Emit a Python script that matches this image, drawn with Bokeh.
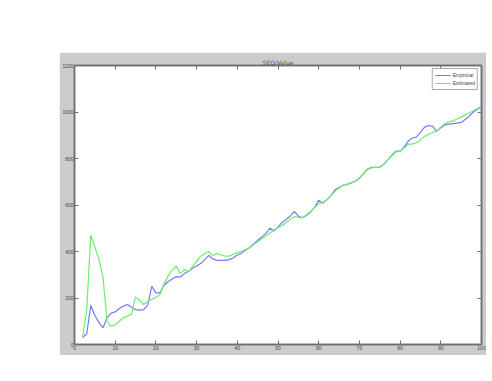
from bokeh.plotting import figure
from bokeh.models import LinearAxis, Range1d, FixedTicker, Legend, LegendItem
from bokeh.embed import file_html
from bokeh.resources import INLINE

x_vals = list(range(2, 101))
empirical = [30, 45, 168, 125, 95, 72, 115, 135, 140, 155, 165, 172, 160, 150, 148, 150, 170, 250, 222,
             222, 255, 270, 282, 292, 290, 305, 315, 328, 338, 348, 365, 383, 368, 362, 362, 362, 365, 372,
             385, 392, 405, 416, 432, 448, 462, 478, 500, 488, 505, 525, 538, 552, 572, 552, 545, 555, 570,
             590, 620, 608, 622, 640, 665, 675, 685, 688, 695, 702, 715, 735, 755, 762, 762, 762, 775, 795,
             815, 832, 832, 850, 875, 888, 892, 912, 935, 942, 938, 918, 932, 945, 948, 950, 952, 955, 968,
             982, 1000, 1012, 1025]
estimated = [30, 150, 470, 420, 365, 290, 100, 78, 85, 100, 115, 122, 130, 205, 190, 172, 185, 194, 202,
             215, 260, 295, 320, 337, 305, 322, 312, 335, 358, 380, 390, 400, 382, 392, 385, 380, 380, 388,
             395, 400, 408, 416, 430, 442, 455, 468, 480, 492, 502, 512, 525, 538, 550, 548, 545, 558, 572,
             590, 605, 612, 622, 640, 660, 672, 685, 690, 696, 702, 716, 735, 752, 760, 762, 762, 776, 795,
             812, 828, 832, 845, 862, 862, 868, 880, 895, 905, 912, 918, 935, 950, 958, 962, 970, 978, 988,
             996, 1005, 1015, 1025]
x_ticks = [0, 10, 20, 30, 40, 50, 60, 70, 80, 90, 100]
y_ticks = [0, 200, 400, 600, 800, 1000, 1200]
series_names = ["Empirical", "Estimated"]
title_text = "SEQ/Value"

GRAY = "#cccccc"
AX = "#6e6e6e"

p = figure(frame_width=407, frame_height=279, output_backend="svg", toolbar_location=None,
           x_range=Range1d(0, 100), y_range=Range1d(0, 1200),
           background_fill_color="white", border_fill_color=GRAY,
           min_border_left=14, min_border_right=5, min_border_top=13, min_border_bottom=11,
           margin=(52, 0, 0, 59))
p.title.text = title_text
p.title.text_font_size = "6px"
p.title.text_font = "DejaVu Sans"
p.title.text_color = "#555555"
p.title.text_font_style = "normal"
p.title.align = "center"
p.title.offset = 0
p.title.standoff = 0

p.grid.visible = False
p.outline_line_color = AX
p.outline_line_width = 1.5


def style_axis(ax, ticks, show_labels):
    ax.ticker = FixedTicker(ticks=ticks)
    ax.axis_line_color = AX
    ax.axis_line_width = 1.5
    ax.major_tick_line_color = AX
    ax.major_tick_in = 4
    ax.major_tick_out = 0
    ax.minor_tick_line_color = None
    ax.major_label_text_font_size = "5px"
    ax.major_label_text_color = "#444444"
    ax.major_label_standoff = 1 if show_labels else 0
    if not show_labels:
        ax.major_label_overrides = {t: "" for t in ticks}


for ax in p.xaxis:
    style_axis(ax, x_ticks, True)
for ax in p.yaxis:
    style_axis(ax, y_ticks, True)

top = LinearAxis()
right = LinearAxis()
style_axis(top, x_ticks, False)
style_axis(right, y_ticks, False)
p.add_layout(top, "above")
p.add_layout(right, "right")

r1 = p.line(x_vals, empirical, line_color="#7878ff", line_width=1.2)
r2 = p.line(x_vals, estimated, line_color="#6cee6c", line_width=1.2)

legend = Legend(items=[LegendItem(label=series_names[0], renderers=[r1]),
                       LegendItem(label=series_names[1], renderers=[r2])],
                location="top_right", label_text_font_size="5px", label_text_color="#444444",
                glyph_width=16, glyph_height=8, label_height=8, spacing=0, padding=2, margin=3,
                border_line_color="#555555", border_line_width=1, label_standoff=2)
p.add_layout(legend)

open("out.html", "w").write(file_html(p, INLINE))
